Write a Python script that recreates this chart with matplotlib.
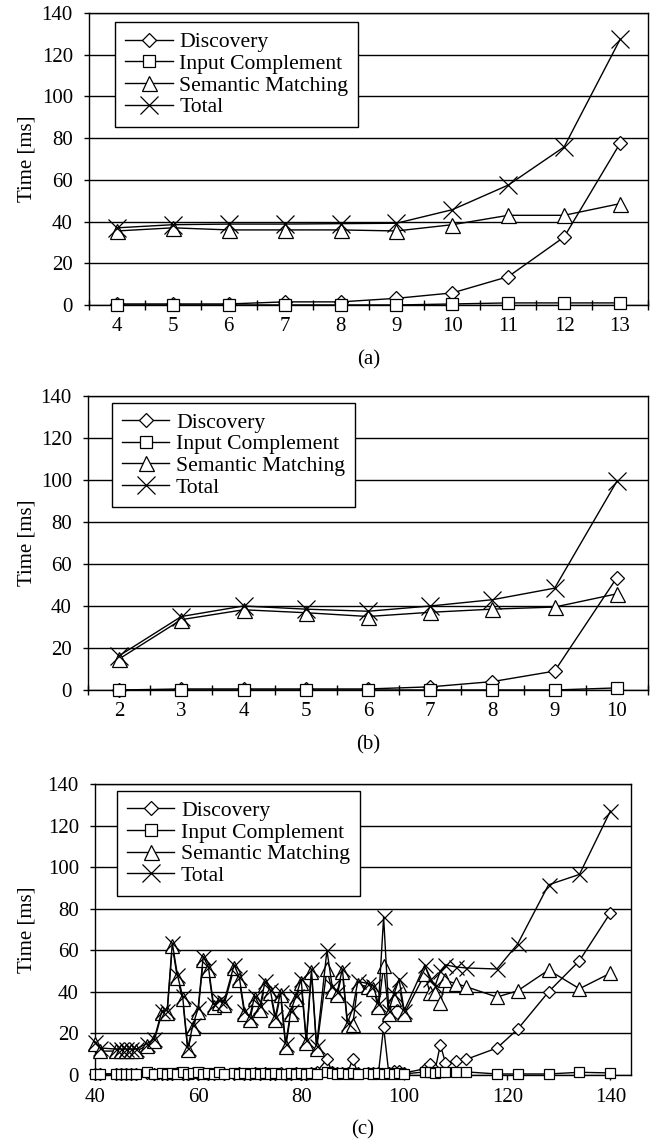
import matplotlib
matplotlib.use("Agg")
import matplotlib.pyplot as plt
from matplotlib.lines import Line2D
from matplotlib.ticker import FixedLocator, NullFormatter

plt.rcParams['font.family'] = ['Liberation Serif', 'DejaVu Serif']

# ---------------- data ----------------
series_names = ["Discovery", "Input Complement", "Semantic Matching", "Total"]

# panel (a)
x_a = [4, 5, 6, 7, 8, 9, 10, 11, 12, 13]
disc_a = [0.5, 0.5, 0.5, 1.5, 1.5, 3.2, 5.8, 13.6, 32.6, 77.5]
inp_a = [0, 0, 0, 0, 0, 0, 0.5, 1, 1, 1]
sem_a = [35.5, 37, 36, 36, 36, 35.5, 38.5, 43, 43, 48.6]
tot_a = [37, 38.5, 38.8, 38.8, 39, 39.2, 45.7, 57.5, 75.8, 127.3]

# panel (b)
x_b = [2, 3, 4, 5, 6, 7, 8, 9, 10]
disc_b = [0, 0.5, 0.5, 0.5, 0.5, 1.5, 4, 9, 53.5]
inp_b = [0, 0, 0, 0, 0, 0, 0, 0, 1]
sem_b = [14.8, 33.5, 38.2, 36.8, 35, 37, 38.5, 39.5, 45.8]
tot_b = [16.3, 35, 40, 38.5, 37.5, 40, 43, 48.5, 99.4]

# panel (c)
x_c = [40, 41, 44, 45, 46, 47, 48, 50, 51.5, 53, 54,
       55, 56, 57, 58, 59, 60, 61, 62, 63, 64, 65,
       67, 68, 69, 70, 71, 72, 73, 74, 75, 76, 77, 78, 79, 80, 81, 82, 83,
       85, 86, 87, 88, 89, 90, 91,
       93, 94, 95, 96, 97, 98, 99, 100,
       104, 105, 106, 107, 108, 110, 112,
       118, 122, 128, 134, 140]
tot_c = [16, 13, 12.5, 12.5, 12.5, 12.5, 12.5, 15, 17.5, 31, 31,
         63.5, 48, 38, 13, 24, 32, 57, 52, 34, 36, 35,
         53, 47, 31, 28, 38, 33, 45, 41, 28, 40, 15, 31, 38, 46, 17, 51, 14,
         60, 43, 40, 51, 25, 32, 45,
         44, 43, 34, 76, 31, 39, 46, 31,
         53, 46, 43, 50, 53, 52, 51.5,
         51, 63, 91.5, 96.5, 127]
sem_c = [15, 11.5, 11.5, 11.5, 11.5, 11.5, 11.5, 14, 16.5, 30, 30,
         62, 46.5, 36.5, 12, 22.5, 30.5, 55.5, 50.5, 32.5, 34.5, 33.5,
         51.5, 45.5, 29.5, 26.5, 36.5, 31.5, 43.5, 39.5, 26.5, 38.5, 13.5, 29.5, 36.5, 44.5, 15.5, 49.5, 12.5,
         51, 40.5, 38.5, 49.5, 23.5, 24, 43.5,
         42.5, 41.5, 32.5, 52.5, 29.5, 36.5, 43.5, 29.5,
         48.5, 39.5, 39.5, 34.5, 45.5, 44, 42.5,
         37.5, 40.5, 50.5, 41.5, 49]
disc_c = [0.5, 0.5, 0.5, 0.5, 0.5, 0.5, 0.5, 1, 0.5, 0.5, 0.5,
          0.5, 1, 0.5, 0.5, 1, 0.5, 1, 0.5, 0.5, 1, 0.5,
          0.5, 1, 0.5, 0.5, 1, 0.5, 1, 0.5, 0.5, 1, 0.5, 0.5, 1, 0.5, 0.5, 1, 1.5,
          7.5, 1.5, 1, 1, 1, 7.5, 1,
          1, 1, 1, 23, 1, 2, 2, 1,
          3, 5.5, 2.5, 14.5, 6, 6.5, 7.5,
          13, 22, 40, 55, 78]
inp_c = [0.5, 0.5, 0.5, 0.5, 0.5, 0.5, 0.5, 1.5, 0.5, 1, 0.5,
         1, 0.5, 1.5, 0.5, 1, 1.5, 0.5, 1, 0.5, 1.5, 0.5,
         1, 0.5, 1, 0.5, 1, 0.5, 1, 0.5, 1, 0.5, 0.5, 1, 0.5, 1, 0.5, 1, 0.5,
         1.5, 1, 0.5, 1, 0.5, 1, 0.5,
         1, 0.5, 1, 0.5, 1, 0.5, 1, 0.5,
         1.5, 1.5, 1, 1.5, 1.5, 1.5, 1.5,
         0.5, 0.5, 0.5, 1.3, 1]

y_ticks = [0, 20, 40, 60, 80, 100, 120, 140]
xt_c = [40, 60, 80, 100, 120, 140]

# ---------------- style ----------------
W, H = 654, 1143
FS = 15
FS_LEG = 15.6
markers = ['D', 's', '^', 'x']
ms_big = [7.2, 8.6, 10.8, 13.0]
ms_small = [5.8, 7.2, 9.4, 10.8]

fig = plt.figure(figsize=(W / 100, H / 100), dpi=100)


def px_axes(left, right, top, bottom):
    return [left / W, 1 - bottom / H, (right - left) / W, (bottom - top) / H]


def panel(rect, x, ys, msizes, xlim, cat=True, leg_anchor=(0.047, 0.968), caption="(a)"):
    ax = fig.add_axes(rect)
    for y, m, s in zip(ys, markers, msizes):
        ax.plot(x, y, color='black', lw=1.0, marker=m, ms=s, mfc='white',
                mec='black', mew=0.9, clip_on=False, zorder=3)
    ax.set_xlim(*xlim)
    ax.set_ylim(0, 140)
    ax.set_yticks(y_ticks)
    ax.yaxis.grid(True, color='black', lw=1.0)
    ax.set_axisbelow(True)
    for sp in ax.spines.values():
        sp.set_linewidth(1.0)
        sp.set_color('black')
    ax.tick_params(axis='y', direction='out', length=3.6, width=1.0, pad=8, labelsize=FS)
    if cat:
        ax.set_xticks(x)
        ax.tick_params(axis='x', which='major', length=0, pad=9, labelsize=FS)
        ax.xaxis.set_minor_locator(FixedLocator([v - 0.5 for v in x] + [x[-1] + 0.5]))
        ax.xaxis.set_minor_formatter(NullFormatter())
        ax.tick_params(axis='x', which='minor', direction='inout', length=6.5, width=1.0)
    else:
        ax.set_xticks(xt_c)
        ax.tick_params(axis='x', direction='out', length=3.6, width=1.0, pad=5.4, labelsize=FS)
    handles = [Line2D([0], [0], color='black', lw=1.0, marker=m, ms=s, mfc='white',
                      mec='black', mew=0.9) for m, s in zip(markers, ms_big)]
    leg = ax.legend(handles, series_names, loc='upper left', bbox_to_anchor=leg_anchor,
                    borderaxespad=0, frameon=True, fancybox=False, edgecolor='black',
                    framealpha=1, fontsize=FS_LEG, handlelength=2.2, handletextpad=0.3,
                    labelspacing=0.07, borderpad=0.45)
    leg.get_frame().set_linewidth(1.0)
    leg.set_zorder(5)
    pos = ax.get_position()
    cx = pos.x0 + pos.width / 2
    fig.text(cx, pos.y0 - 55 / H, caption, ha='center', va='center', fontsize=FS)
    fig.text(27 / W, pos.y0 + pos.height / 2, 'Time [ms]', rotation=90,
             ha='center', va='center', fontsize=FS)
    return ax


panel(px_axes(89, 648, 13, 305), x_a, [disc_a, inp_a, sem_a, tot_a], ms_big,
      (3.5, 13.5), cat=True, leg_anchor=(0.047, 0.968), caption="(a)")
panel(px_axes(88, 648, 396, 690), x_b, [disc_b, inp_b, sem_b, tot_b], ms_big,
      (1.5, 10.5), cat=True, leg_anchor=(0.043, 0.977), caption="(b)")
panel(px_axes(95, 631, 784, 1075), x_c, [disc_c, inp_c, sem_c, tot_c], ms_small,
      (40, 144), cat=False, leg_anchor=(0.041, 0.976), caption="(c)")

fig.savefig("out.png", dpi=100)
